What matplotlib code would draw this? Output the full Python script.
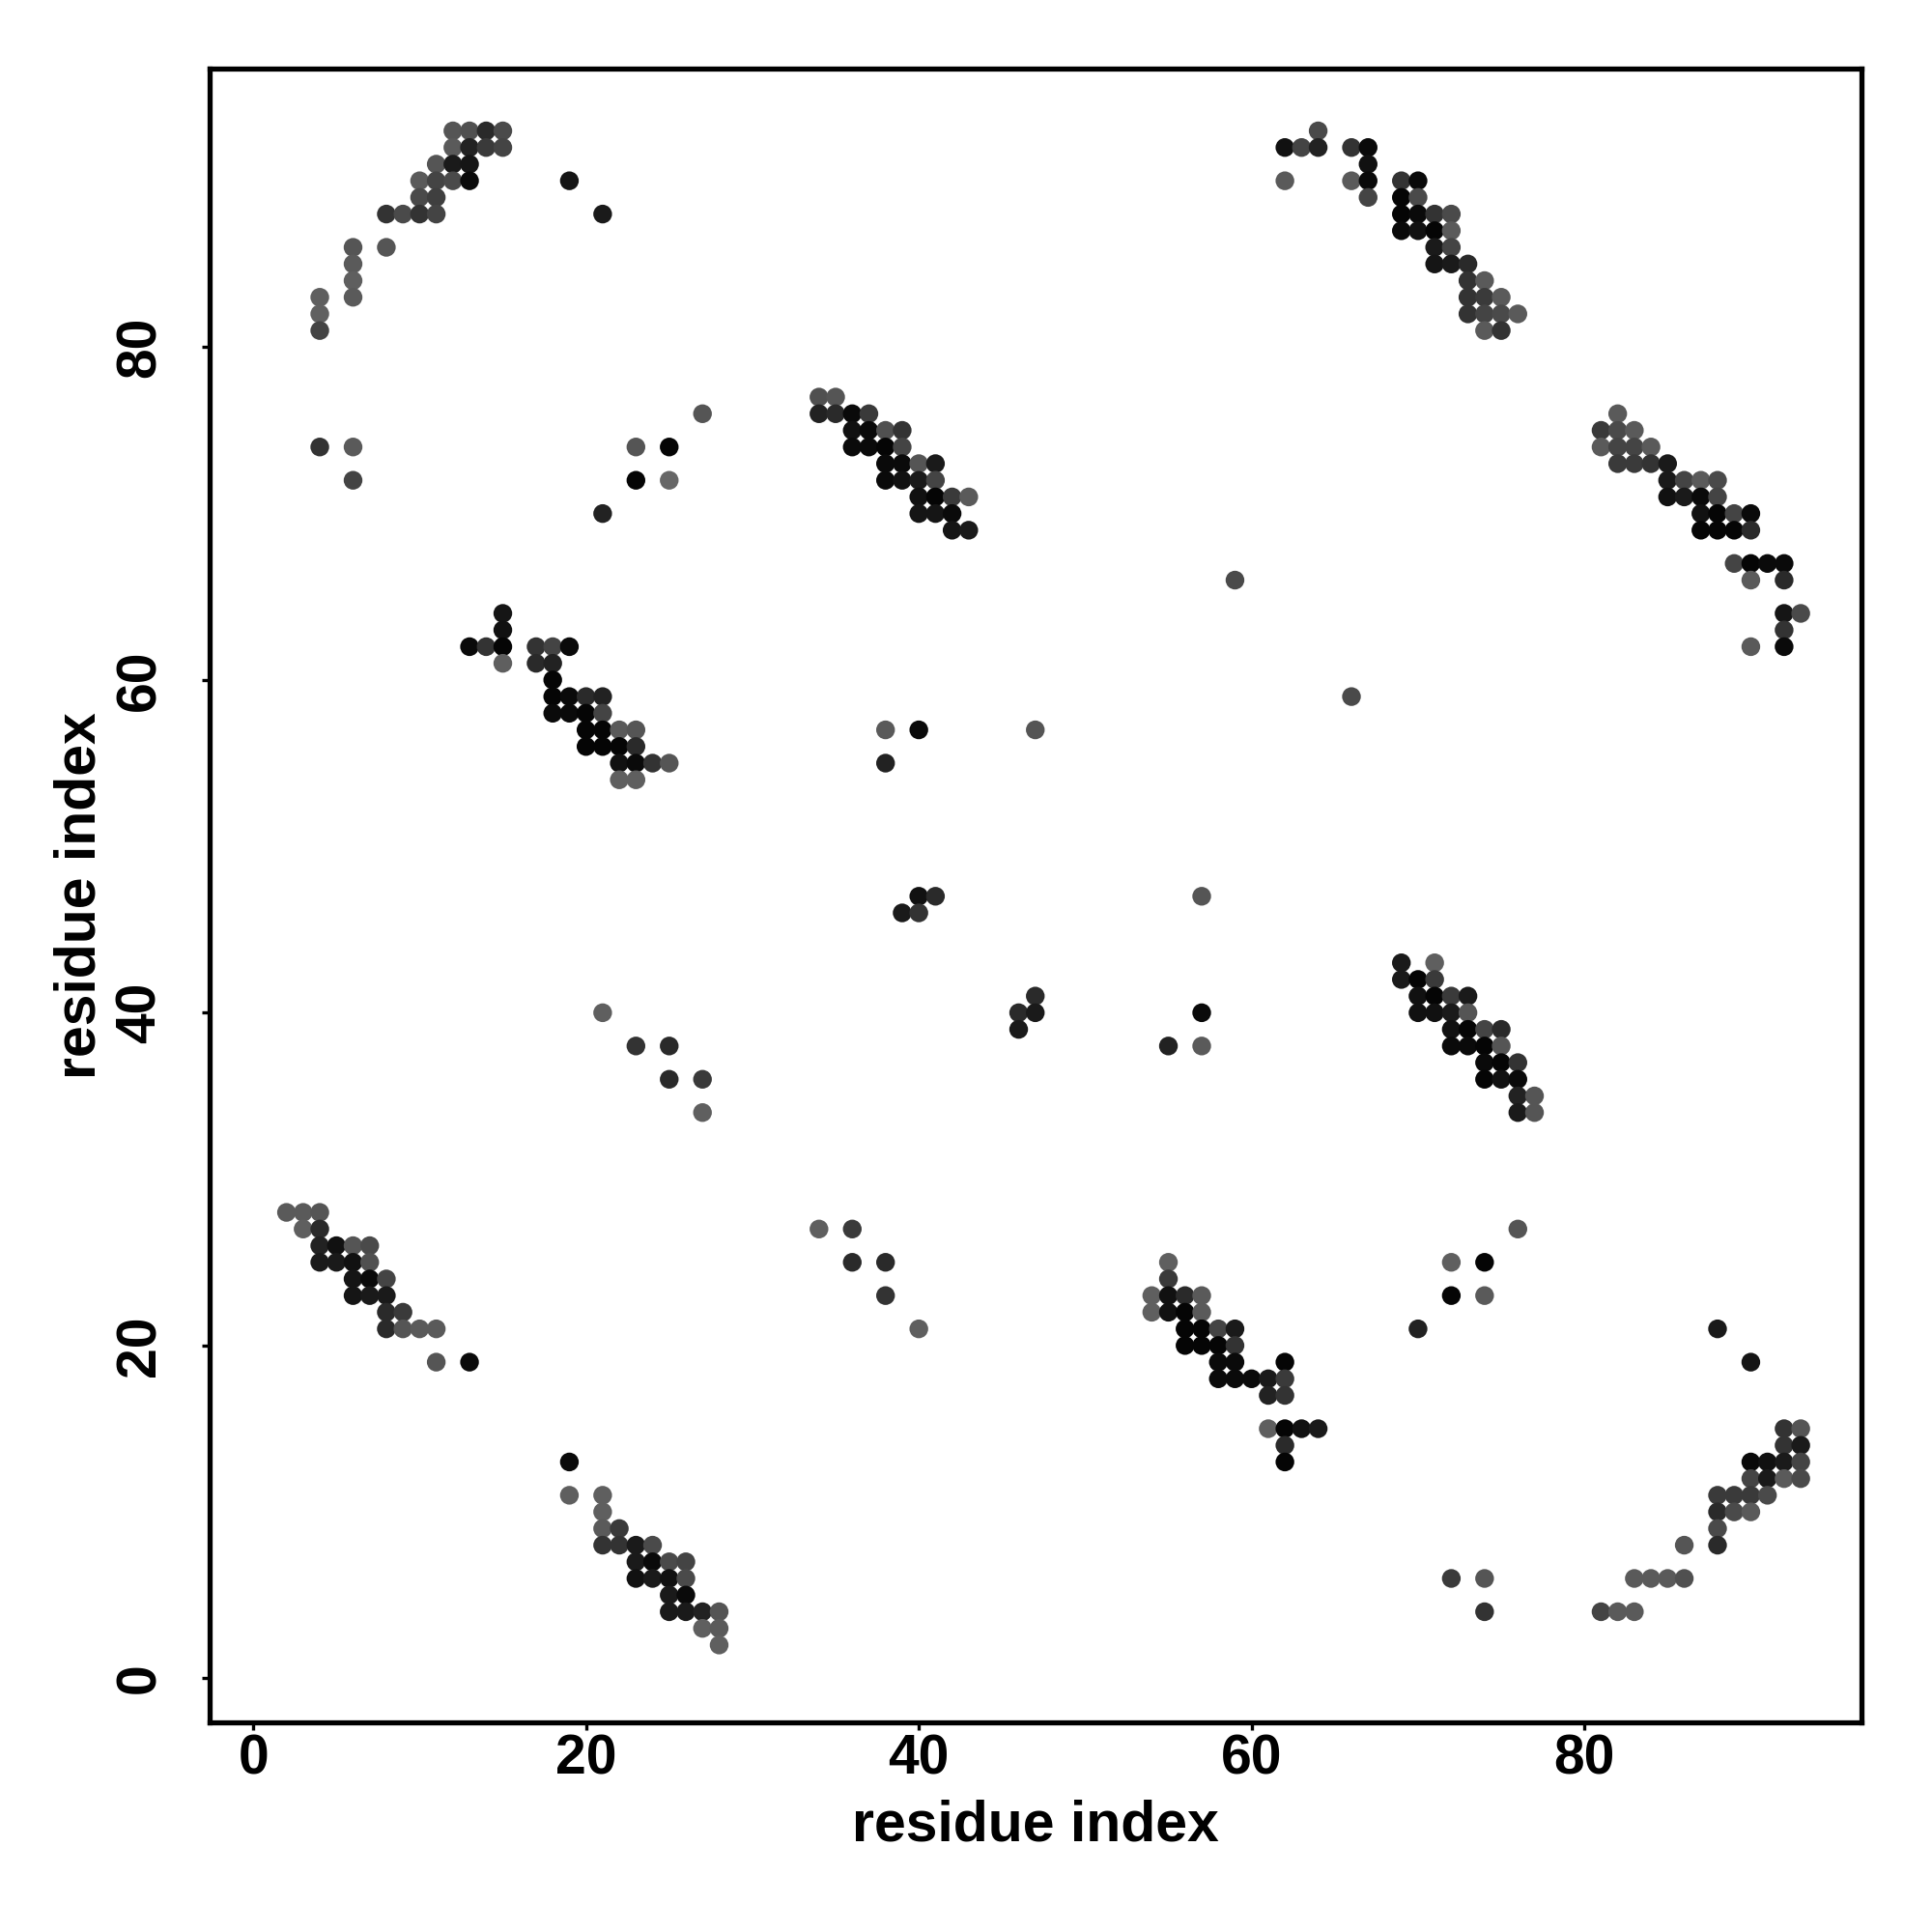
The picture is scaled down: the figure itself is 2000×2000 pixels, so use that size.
import numpy as np
import matplotlib
matplotlib.use('Agg')
import matplotlib.pyplot as plt

# Predicted residue-residue contacts (i, j) and grey shade of each dot (0 = black)
res_i = [
    # top left
    12, 13, 14, 15, 12, 13, 14, 15, 11, 12, 13, 10, 11, 12, 13, 19, 10, 11,
    8, 9, 10, 11, 21, 6, 8, 6, 6, 4, 6, 4, 4, 27, 4, 6, 23, 25, 6, 23, 25, 21,
    # 34-43 / 69-77 strand pair
    34, 35, 34, 35, 36, 37, 36, 37, 38, 39, 36, 37, 38, 39, 38, 39, 40, 41,
    38, 39, 40, 41, 40, 41, 42, 43, 40, 41, 42, 42, 43, 59,
    # top right
    64, 62, 63, 64, 66, 67, 67, 62, 66, 67, 69, 70, 67, 69, 70, 69, 70, 71, 72,
    69, 70, 71, 72, 71, 72, 71, 72, 73, 73, 74, 73, 74, 75, 73, 74, 75, 76, 74, 75,
    # right
    82, 81, 82, 83, 81, 82, 83, 84, 82, 83, 84, 85, 85, 86, 87, 88, 85, 86, 87, 88,
    87, 88, 89, 90, 87, 88, 89, 90, 89, 90, 91, 92, 90, 92, 92, 93, 92, 90, 92,
    # middle right
    66, 69, 71, 69, 70, 71, 70, 71, 72, 73, 70, 71, 72, 73, 72, 73, 74, 75,
    72, 73, 74, 75, 74, 75, 76, 74, 75, 76, 76, 77, 76, 77,
    # 13-25 / 54-64
    15, 15, 13, 14, 15, 17, 18, 19, 15, 17, 18, 18, 18, 19, 20, 21, 18, 19, 20, 21,
    20, 21, 22, 23, 20, 21, 22, 23, 22, 23, 24, 25, 22, 23,
    21, 23, 25, 25, 27, 27,
    # centre
    38, 40, 47, 38, 40, 41, 57, 39, 40, 47, 46, 47, 57, 46, 55, 57,
    # bottom left
    2, 3, 4, 3, 4, 4, 5, 6, 7, 4, 5, 6, 7, 6, 7, 8, 6, 7, 8, 8, 9, 8, 9, 10, 11,
    11, 13, 19, 19, 21, 21, 21, 22, 21, 22, 23, 24, 23, 24, 25, 26, 23, 24, 25, 26,
    25, 26, 25, 26, 27, 28, 27, 28, 28,
    # bottom middle
    34, 36, 36, 38, 38, 40, 55, 55, 54, 55, 56, 57, 54, 55, 56, 57, 56, 57, 58, 59,
    56, 57, 58, 59, 58, 59, 58, 59, 60, 61, 61, 61,
    # bottom right
    76, 72, 74, 72, 74, 70, 88, 62, 90, 62, 62, 62, 63, 64, 62, 62,
    92, 93, 92, 93, 90, 91, 92, 93, 90, 91, 92, 93, 88, 89, 90, 91, 88, 89, 90,
    88, 86, 88, 72, 74, 83, 84, 85, 86, 74, 81, 82, 83,
]

res_j = [
    93, 93, 93, 93, 92, 92, 92, 92, 91, 91, 91, 90, 90, 90, 90, 90, 89, 89,
    88, 88, 88, 88, 88, 86, 86, 85, 84, 83, 83, 82, 81, 76, 74, 74, 74, 74, 72, 72, 72, 70,
    77, 77, 76, 76, 76, 76, 75, 75, 75, 75, 74, 74, 74, 74, 73, 73, 73, 73,
    72, 72, 72, 72, 71, 71, 71, 71, 70, 70, 70, 69, 69, 66,
    93, 92, 92, 92, 92, 92, 91, 90, 90, 90, 90, 90, 89, 89, 89, 88, 88, 88, 88,
    87, 87, 87, 87, 86, 86, 85, 85, 85, 84, 84, 83, 83, 83, 82, 82, 82, 82, 81, 81,
    76, 75, 75, 75, 74, 74, 74, 74, 73, 73, 73, 73, 72, 72, 72, 72, 71, 71, 71, 71,
    70, 70, 70, 70, 69, 69, 69, 69, 67, 67, 67, 67, 66, 66, 64, 64, 63, 62, 62,
    59, 43, 43, 42, 42, 42, 41, 41, 41, 41, 40, 40, 40, 40, 39, 39, 39, 39,
    38, 38, 38, 38, 37, 37, 37, 36, 36, 36, 35, 35, 34, 34,
    64, 63, 62, 62, 62, 62, 62, 62, 61, 61, 61, 60, 59, 59, 59, 59, 58, 58, 58, 58,
    57, 57, 57, 57, 56, 56, 56, 56, 55, 55, 55, 55, 54, 54,
    40, 38, 38, 36, 36, 34,
    57, 57, 57, 55, 47, 47, 47, 46, 46, 41, 40, 40, 40, 39, 38, 38,
    28, 28, 28, 27, 27, 26, 26, 26, 26, 25, 25, 25, 25, 24, 24, 24, 23, 23, 23, 22, 22, 21, 21, 21, 21,
    19, 19, 13, 11, 11, 10, 9, 9, 8, 8, 8, 8, 7, 7, 7, 7, 6, 6, 6, 6,
    5, 5, 4, 4, 4, 4, 3, 3, 2,
    27, 27, 25, 25, 23, 21, 25, 24, 23, 23, 23, 23, 22, 22, 22, 22, 21, 21, 21, 21,
    20, 20, 20, 20, 19, 19, 18, 18, 18, 18, 17, 15,
    27, 25, 25, 23, 23, 21, 21, 19, 19, 18, 17, 15, 15, 15, 14, 13,
    15, 15, 14, 14, 13, 13, 13, 13, 12, 12, 12, 12, 11, 11, 11, 11, 10, 10, 10,
    9, 8, 8, 6, 6, 6, 6, 6, 6, 4, 4, 4, 4,
]

shade = [
    85, 80, 42, 74, 90, 34, 58, 68, 85, 26, 21, 90, 68, 74, 10, 21, 74, 63,
    51, 74, 51, 68, 26, 85, 85, 90, 95, 95, 90, 96, 68, 85, 51, 90, 85, 5, 68, 5, 102, 34,
    80, 85, 34, 42, 10, 58, 17, 10, 80, 51, 10, 10, 5, 68, 10, 10, 85, 26,
    10, 17, 26, 68, 17, 5, 58, 90, 21, 21, 10, 21, 26, 74,
    74, 17, 68, 34, 51, 10, 17, 90, 90, 10, 51, 10, 68, 5, 74, 5, 10, 51, 74,
    10, 17, 5, 90, 26, 68, 21, 26, 42, 51, 90, 51, 58, 90, 51, 68, 74, 90, 90, 51,
    90, 58, 74, 90, 90, 68, 68, 90, 58, 58, 51, 26, 26, 68, 90, 74, 17, 26, 10, 68,
    17, 5, 68, 10, 5, 5, 5, 42, 68, 5, 10, 10, 90, 42, 21, 74, 51, 90, 10,
    74, 26, 95, 26, 5, 58, 17, 5, 58, 26, 17, 17, 26, 85, 17, 5, 68, 42,
    10, 10, 5, 85, 10, 5, 51, 5, 17, 10, 34, 85, 26, 85,
    21, 17, 10, 51, 5, 51, 68, 10, 95, 42, 34, 5, 5, 10, 42, 34, 10, 10, 5, 68,
    5, 5, 90, 85, 5, 5, 5, 42, 17, 10, 51, 85, 95, 95,
    95, 51, 42, 42, 58, 95,
    90, 10, 85, 34, 17, 42, 85, 26, 51, 42, 42, 26, 10, 26, 34, 90,
    90, 90, 85, 95, 42, 34, 17, 85, 74, 26, 26, 17, 80, 21, 10, 68, 21, 26, 26, 42, 58, 42, 85, 90, 90,
    85, 10, 10, 95, 95, 95, 90, 58, 51, 51, 26, 74, 26, 10, 74, 68, 17, 26, 17, 74,
    26, 10, 26, 26, 34, 85, 95, 90, 95,
    95, 58, 42, 42, 51, 95, 95, 58, 95, 17, 42, 90, 95, 17, 5, 90, 5, 5, 68, 26,
    5, 5, 5, 51, 10, 10, 10, 10, 10, 26, 34, 95,
    85, 95, 5, 5, 90, 34, 26, 5, 21, 58, 51, 5, 17, 26, 42, 5,
    51, 85, 51, 26, 10, 17, 26, 68, 68, 26, 90, 74, 58, 58, 58, 74, 42, 74, 90,
    74, 85, 42, 58, 85, 90, 90, 90, 80, 51, 68, 90, 90,
]

x_ticks = [0, 20, 40, 60, 80]
y_ticks = [0, 20, 40, 60, 80]
axis_label = 'residue index'

plt.rcParams['font.family'] = ['Liberation Sans', 'DejaVu Sans']
plt.rcParams['font.weight'] = 'bold'

fig = plt.figure(figsize=(20, 20), dpi=100)
ax = fig.add_axes([0.1085, 0.1085, 0.855, 0.8558])

ax.scatter(res_i, res_j, c=shade, cmap='gray', vmin=0, vmax=255,
           s=195, linewidths=0, zorder=3)

ax.set_xlim(-2.62, 96.65)
ax.set_ylim(-2.65, 96.72)

ax.set_xticks(x_ticks)
ax.set_yticks(y_ticks)
ax.set_xticklabels([str(t) for t in x_ticks], fontsize=41, fontweight='bold')
ax.set_yticklabels([str(t) for t in y_ticks], fontsize=41, fontweight='bold',
                   rotation=90, va='center')
ax.tick_params(axis='both', length=6, width=2.4, direction='out')
ax.tick_params(axis='x', pad=2)
ax.tick_params(axis='y', pad=26)

for sp in ax.spines.values():
    sp.set_linewidth(3.8)

ax.set_xlabel(axis_label, fontsize=42.5, fontweight='bold', labelpad=10)
ax.set_ylabel(axis_label, fontsize=42.5, fontweight='bold', labelpad=6)

plt.savefig('out.png', dpi=100)
plt.close()
